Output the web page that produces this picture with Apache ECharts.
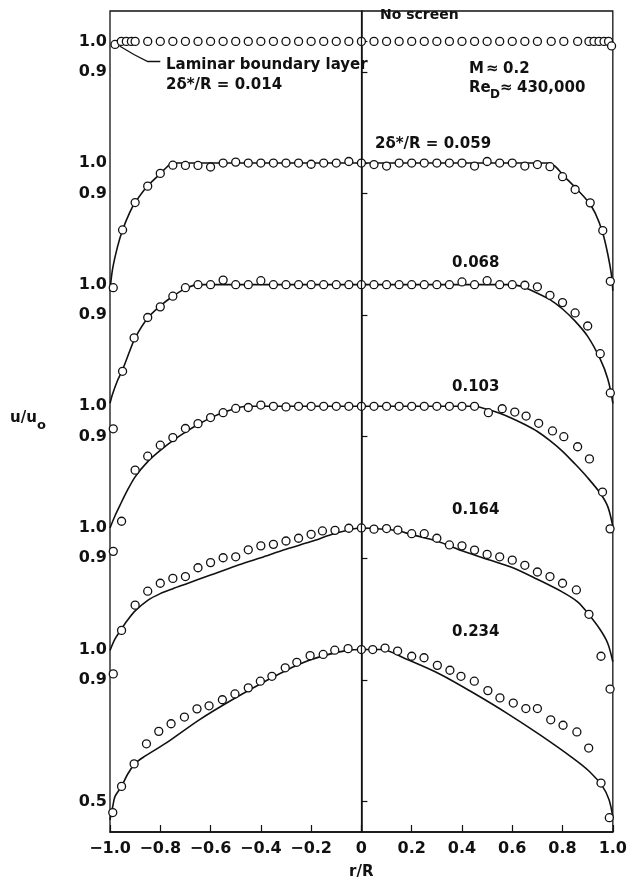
<!DOCTYPE html>
<html><head><meta charset="utf-8">
<script src="https://cdn.jsdelivr.net/npm/echarts@6/dist/echarts.min.js"></script>
<style>html,body{margin:0;padding:0;background:#fff}#c{width:630px;height:877px}</style>
</head><body><div id="c"></div>
<script>
// ---- DATA (r/R, u/u0) ----
const profileLabels = ['No screen', '2δ*/R = 0.059', '0.068', '0.103', '0.164', '0.234'];
const offsets = [2.0, 1.6, 1.2, 0.8, 0.4, 0.0];   // vertical stacking of profiles (top to bottom)
const yTickValues = [1.0, 0.9];                    // labelled per profile
const yExtraTick = 0.5;                            // extra label on the bottom profile
const xTickValues = [-1, -0.8, -0.6, -0.4, -0.2, 0, 0.2, 0.4, 0.6, 0.8, 1];

const ptsNoScreen = [[-0.98,0.99],[-0.955,1.0],[-0.935,1.0],[-0.915,1.0],[-0.9,1.0],[-0.85,1.0],[-0.8,1.0],[-0.75,1.0],[-0.7,1.0],[-0.65,1.0],[-0.6,1.0],[-0.55,1.0],[-0.5,1.0],[-0.45,1.0],[-0.4,1.0],[-0.35,1.0],[-0.3,1.0],[-0.25,1.0],[-0.2,1.0],[-0.15,1.0],[-0.1,1.0],[-0.05,1.0],[0,1.0],[0.05,1.0],[0.1,1.0],[0.15,1.0],[0.2,1.0],[0.25,1.0],[0.3,1.0],[0.35,1.0],[0.4,1.0],[0.45,1.0],[0.5,1.0],[0.55,1.0],[0.6,1.0],[0.65,1.0],[0.7,1.0],[0.755,1.0],[0.805,1.0],[0.86,1.0],[0.905,1.0],[0.925,1.0],[0.945,1.0],[0.965,1.0],[0.983,1.0],[0.995,0.985]];

const pts059 = [[-0.987,0.59],[-0.95,0.78],[-0.9,0.87],[-0.85,0.924],[-0.8,0.966],[-0.75,0.993],[-0.7,0.992],[-0.65,0.992],[-0.6,0.987],[-0.55,1.0],[-0.5,1.003],[-0.45,1.0],[-0.4,1.0],[-0.35,1.0],[-0.3,1.0],[-0.25,1.0],[-0.2,0.996],[-0.15,1.0],[-0.1,1.0],[-0.05,1.005],[0,1.0],[0.05,0.995],[0.1,0.99],[0.15,1.0],[0.2,1.0],[0.25,1.0],[0.3,1.0],[0.35,1.0],[0.4,1.0],[0.45,0.99],[0.5,1.005],[0.55,1.0],[0.6,1.0],[0.65,0.99],[0.7,0.995],[0.75,0.988],[0.8,0.955],[0.85,0.913],[0.91,0.869],[0.96,0.778],[0.99,0.611]];
const line059 = [[-1,0.58],[-0.99,0.65],[-0.97,0.725],[-0.95,0.78],[-0.92,0.84],[-0.9,0.87],[-0.85,0.925],[-0.8,0.965],[-0.77,0.99],[-0.75,1.0],[0.74,1.0],[0.77,0.99],[0.8,0.962],[0.85,0.92],[0.9,0.875],[0.93,0.835],[0.96,0.77],[0.98,0.70],[0.995,0.63],[1,0.58]];

const pts068 = [[-0.987,0.526],[-0.95,0.715],[-0.904,0.825],[-0.85,0.892],[-0.8,0.927],[-0.75,0.962],[-0.7,0.99],[-0.65,1.0],[-0.6,1.0],[-0.55,1.015],[-0.5,1.0],[-0.45,1.0],[-0.4,1.013],[-0.35,1.0],[-0.3,1.0],[-0.25,1.0],[-0.2,1.0],[-0.15,1.0],[-0.1,1.0],[-0.05,1.0],[0,1.0],[0.05,1.0],[0.1,1.0],[0.15,1.0],[0.2,1.0],[0.25,1.0],[0.3,1.0],[0.35,1.0],[0.4,1.009],[0.45,1.0],[0.5,1.013],[0.55,1.0],[0.6,1.0],[0.65,0.998],[0.7,0.993],[0.75,0.965],[0.8,0.941],[0.85,0.907],[0.9,0.864],[0.95,0.773],[0.99,0.644]];
const line068 = [[-1,0.61],[-0.99,0.64],[-0.97,0.685],[-0.95,0.72],[-0.92,0.785],[-0.9,0.825],[-0.85,0.89],[-0.8,0.93],[-0.75,0.962],[-0.7,0.987],[-0.65,1.0],[0.6,1.0],[0.65,0.99],[0.7,0.972],[0.75,0.951],[0.8,0.92],[0.85,0.88],[0.9,0.83],[0.95,0.755],[0.98,0.69],[1,0.61]];

const pts103 = [[-0.987,0.523],[-0.954,0.622],[-0.9,0.79],[-0.85,0.836],[-0.8,0.872],[-0.75,0.897],[-0.7,0.927],[-0.65,0.943],[-0.6,0.963],[-0.55,0.979],[-0.5,0.993],[-0.45,0.996],[-0.4,1.004],[-0.35,1.0],[-0.3,0.998],[-0.25,1.0],[-0.2,1.0],[-0.15,1.0],[-0.1,1.0],[-0.05,1.0],[0,1.0],[0.05,1.0],[0.1,1.0],[0.15,1.0],[0.2,1.0],[0.25,1.0],[0.3,1.0],[0.35,1.0],[0.4,1.0],[0.45,1.0],[0.505,0.979],[0.56,0.992],[0.61,0.981],[0.655,0.968],[0.705,0.944],[0.76,0.919],[0.805,0.9],[0.86,0.867],[0.907,0.827],[0.959,0.718],[0.989,0.597]];
const line103 = [[-1,0.6],[-0.98,0.64],[-0.96,0.675],[-0.93,0.725],[-0.9,0.768],[-0.85,0.818],[-0.8,0.855],[-0.75,0.887],[-0.7,0.915],[-0.65,0.94],[-0.6,0.962],[-0.55,0.98],[-0.5,0.993],[-0.46,1.0],[0.45,1.0],[0.5,0.99],[0.55,0.977],[0.6,0.96],[0.65,0.94],[0.7,0.917],[0.75,0.887],[0.8,0.852],[0.85,0.81],[0.9,0.765],[0.95,0.714],[0.98,0.67],[1,0.605]];

const pts164 = [[-0.987,0.52],[-0.954,0.663],[-0.9,0.746],[-0.85,0.792],[-0.8,0.818],[-0.75,0.834],[-0.7,0.84],[-0.65,0.869],[-0.6,0.886],[-0.55,0.902],[-0.5,0.905],[-0.45,0.928],[-0.4,0.941],[-0.35,0.946],[-0.3,0.957],[-0.25,0.966],[-0.2,0.979],[-0.155,0.99],[-0.105,0.992],[-0.05,0.999],[0,1.0],[0.05,0.996],[0.1,0.998],[0.145,0.993],[0.2,0.981],[0.25,0.981],[0.3,0.966],[0.35,0.944],[0.4,0.941],[0.45,0.927],[0.5,0.913],[0.55,0.905],[0.6,0.894],[0.65,0.877],[0.7,0.855],[0.75,0.84],[0.8,0.818],[0.855,0.796],[0.905,0.716],[0.953,0.578],[0.989,0.47]];
const line164 = [[-1,0.597],[-0.98,0.635],[-0.954,0.668],[-0.93,0.697],[-0.9,0.727],[-0.85,0.762],[-0.8,0.784],[-0.75,0.8],[-0.7,0.815],[-0.6,0.845],[-0.5,0.875],[-0.4,0.902],[-0.3,0.93],[-0.2,0.955],[-0.1,0.983],[0,1.0],[0.1,0.995],[0.15,0.99],[0.2,0.978],[0.3,0.957],[0.4,0.925],[0.5,0.897],[0.6,0.87],[0.7,0.831],[0.8,0.789],[0.86,0.757],[0.9,0.72],[0.95,0.665],[0.98,0.62],[1,0.56]];

const pts234 = [[-0.989,0.464],[-0.954,0.55],[-0.904,0.624],[-0.855,0.69],[-0.806,0.731],[-0.757,0.756],[-0.704,0.778],[-0.654,0.805],[-0.606,0.815],[-0.553,0.835],[-0.503,0.854],[-0.45,0.874],[-0.402,0.896],[-0.356,0.912],[-0.303,0.94],[-0.257,0.958],[-0.204,0.98],[-0.152,0.984],[-0.106,0.998],[-0.053,1.003],[0,1.0],[0.045,1.0],[0.094,1.005],[0.144,0.995],[0.2,0.978],[0.249,0.973],[0.302,0.948],[0.352,0.932],[0.396,0.912],[0.449,0.896],[0.503,0.865],[0.551,0.841],[0.604,0.824],[0.654,0.806],[0.7,0.806],[0.753,0.769],[0.802,0.751],[0.857,0.729],[0.904,0.676],[0.953,0.561],[0.986,0.447]];
const line234 = [[-1,0.44],[-0.99,0.48],[-0.98,0.517],[-0.954,0.55],[-0.93,0.59],[-0.9,0.625],[-0.869,0.645],[-0.776,0.693],[-0.645,0.769],[-0.514,0.835],[-0.382,0.896],[-0.25,0.951],[-0.15,0.98],[-0.05,0.998],[0,1.0],[0.08,1.0],[0.183,0.967],[0.315,0.918],[0.446,0.857],[0.578,0.791],[0.709,0.72],[0.841,0.643],[0.907,0.599],[0.959,0.55],[0.985,0.506],[1,0.45]];

// leader line of the "Laminar boundary layer" note (r/R, u/u0 on the top profile)
const leaderPts = [[-0.80,0.934],[-0.85,0.934],[-0.905,0.957],[-0.962,0.985]];

// ---- CHART ----
const FONT = 'DejaVu Sans';
const INK = '#111';
const profiles = [
  {pts: ptsNoScreen, line: null},
  {pts: pts059, line: line059},
  {pts: pts068, line: line068},
  {pts: pts103, line: line103},
  {pts: pts164, line: line164},
  {pts: pts234, line: line234}
];
const shift = (arr, o) => arr.map(p => [p[0], Math.round((p[1] + o) * 10000) / 10000]);
const key = v => (Math.round(v * 100) / 100).toFixed(2);

const yLabelMap = {};
const yCustom = [];
offsets.forEach(o => yTickValues.forEach(t => { yLabelMap[key(t + o)] = t.toFixed(1); yCustom.push(Math.round((t + o) * 100) / 100); }));
yLabelMap[key(yExtraTick + offsets[offsets.length - 1])] = yExtraTick.toFixed(1);
yCustom.push(yExtraTick + offsets[offsets.length - 1]);
yCustom.sort((a, b) => a - b);

const series = [];
profiles.forEach((p, i) => {
  const o = offsets[i];
  if (p.line) {
    series.push({type: 'line', data: shift(p.line, o), showSymbol: false, smooth: 0.3,
      lineStyle: {color: INK, width: 1.6}, z: 2, silent: true, animation: false});
  }
  const s = {type: 'scatter', data: shift(p.pts, o), symbol: 'circle', symbolSize: 8,
    itemStyle: {color: '#fff', borderColor: INK, borderWidth: 1.3, opacity: 1}, z: 3, silent: true, animation: false};
  if (i === 0) {
    s.markLine = {silent: true, symbol: ['none', 'none'], label: {show: false}, animation: false,
      lineStyle: {color: INK, width: 1.2, type: 'solid'}, data: [{xAxis: 0}]};
  }
  series.push(s);
});
series.push({type: 'lines', coordinateSystem: 'cartesian2d', polyline: true, silent: true, animation: false,
  symbol: ['none', 'arrow'], symbolSize: 7, lineStyle: {color: INK, width: 1.3, opacity: 1},
  data: [{coords: shift(leaderPts, offsets[0])}], z: 4});

const txt = (x, y, text, size, extra) => Object.assign({type: 'text', x: x, y: y, silent: true,
  style: {text: text, fontFamily: FONT, fontWeight: 'bold', fontSize: size, fill: INK, verticalAlign: 'middle', align: 'left'}}, extra || {});

const graphics = [
  txt(380, 15, profileLabels[0], 14),
  txt(166, 65, 'Laminar boundary layer', 15),
  txt(166, 85, '2δ*/R = 0.014', 15),
  txt(469, 69, 'M', 15), txt(486, 69, '≈', 15), txt(503, 69, '0.2', 15),
  txt(469, 88, 'Re', 15), txt(490, 95, 'D', 12), txt(500, 88, '≈', 15), txt(517, 88, '430,000', 15),
  txt(375, 144, profileLabels[1], 15),
  txt(452, 263, profileLabels[2], 15),
  txt(452, 387, profileLabels[3], 15),
  txt(452, 510, profileLabels[4], 15),
  txt(452, 632, profileLabels[5], 15),
  txt(10, 418, 'u/u', 15), txt(37, 426, 'o', 13),
  txt(349, 872, 'r/R', 15)
];

const chart = echarts.init(document.getElementById('c'), null, {renderer: 'canvas'});
chart.setOption({
  animation: false,
  backgroundColor: '#fff',
  grid: {left: 110, right: 13, top: 11, bottom: 45, show: true, borderColor: INK, borderWidth: 1.3, backgroundColor: 'transparent'},
  xAxis: {type: 'value', min: -1, max: 1, interval: 0.2,
    axisLine: {show: true, lineStyle: {color: INK, width: 1.5}},
    axisTick: {show: true, inside: true, length: 7, lineStyle: {color: INK, width: 1.2}},
    splitLine: {show: false},
    axisLabel: {color: INK, fontFamily: FONT, fontWeight: 'bold', fontSize: 16, margin: 9,
      formatter: v => { const r = Math.round(v * 10) / 10; return r === 0 ? '0' : r.toFixed(1).replace('-', '−'); }}
  },
  yAxis: {type: 'value', min: 0.4, max: 3.1,
    axisLine: {show: true, lineStyle: {color: INK, width: 1.5}},
    axisTick: {show: true, inside: true, length: 6, customValues: yCustom, lineStyle: {color: INK, width: 1.2}},
    splitLine: {show: false},
    axisLabel: {color: INK, fontFamily: FONT, fontWeight: 'bold', fontSize: 16, margin: 3, customValues: yCustom,
      formatter: v => yLabelMap[key(v)] || ''}
  },
  series: series,
  graphic: graphics
});
</script></body></html>
